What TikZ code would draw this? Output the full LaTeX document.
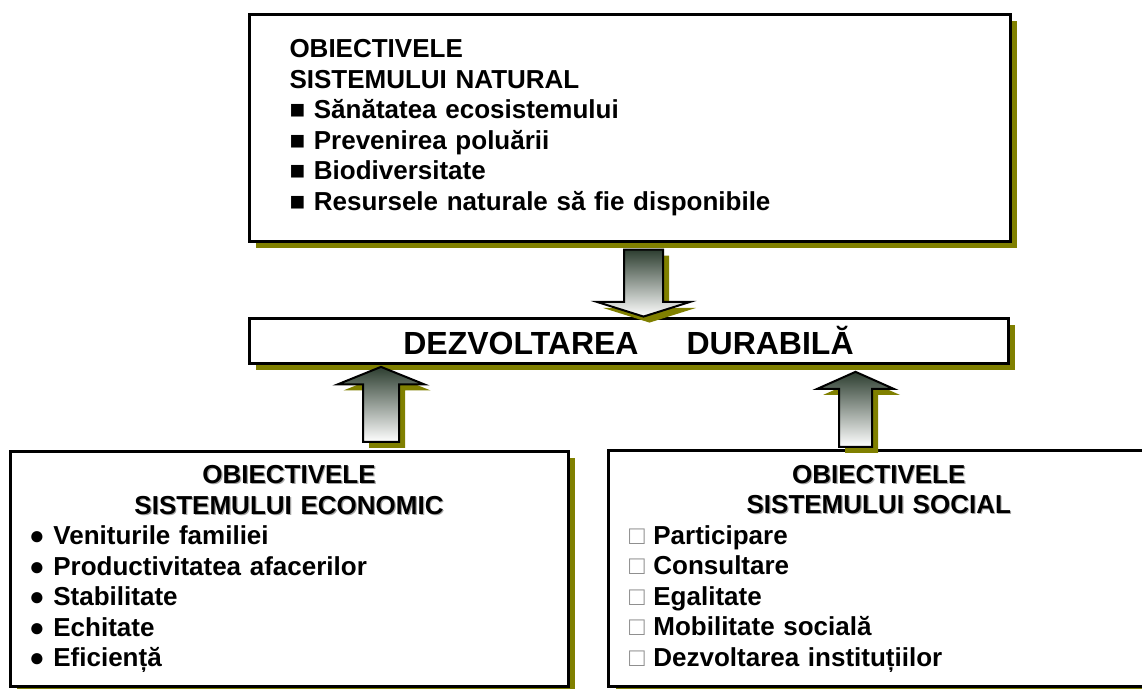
\documentclass[tikz,border=0pt]{standalone}
\usepackage{fontspec}
\setmainfont{Liberation Sans}
\usetikzlibrary{shapes.arrows,shadows}

\definecolor{umbra}{RGB}{128,128,0}
\definecolor{arrowdark}{RGB}{45,62,48}
\newcommand{\umbratext}[1]{\makebox[0pt][l]{\hspace{1.2pt}\raisebox{-1.2pt}{\textcolor{black!35}{#1}}}#1}

\begin{document}
\begin{tikzpicture}[x=1pt,y=-1pt,
    box/.style={draw=black, line width=3pt, fill=white, inner sep=0pt,
        drop shadow={shadow xshift=7pt, shadow yshift=-7pt, fill=umbra, opacity=1}},
    blockarrow/.style={single arrow, draw=black, line width=2pt, inner ysep=0pt,
        top color=arrowdark, bottom color=white, single arrow head indent=0pt,
        drop shadow={shadow xshift=6pt, shadow yshift=-6pt, fill=umbra, opacity=1}},
    itemfont/.style={font=\fontsize{26}{30.5}\selectfont\bfseries}]

                \useasboundingbox (0,0) rectangle (1142,688);

                \node[box, itemfont, minimum width=761, minimum height=227, text width=680, align=left] (natural) at (629.5,127.5)
                    {OBIECTIVELE\\ SISTEMULUI NATURAL\\ ■ Sănătatea ecosistemului\\ ■ Prevenirea poluării\\ ■ Biodiversitate\\ ■ Resursele naturale să fie disponibile};

                \node[box, font=\fontsize{32}{36}\selectfont\bfseries, minimum width=759, minimum height=45] (durable) at (628.5,340.5)
                    {DEZVOLTAREA\hspace{48pt}DURABILĂ};

                \node[box, itemfont, minimum width=558, minimum height=235.5, text width=520, align=left] (economic) at (289,569)
                    {{\centering\umbratext{OBIECTIVELE}\\ \umbratext{SISTEMULUI ECONOMIC}\par}
                     ● Veniturile familiei\\ ● Productivitatea afacerilor\\ ● Stabilitate\\ ● Echitate\\ ● Eficiență};

                \node[box, itemfont, minimum width=540.5, minimum height=236, text width=499.5, align=left] (social) at (878.75,568.5)
                    {{\centering\umbratext{OBIECTIVELE}\\ \umbratext{SISTEMULUI SOCIAL}\par}
                     {\mdseries\color{black!45}□} Participare\\ {\mdseries\color{black!45}□} Consultare\\ {\mdseries\color{black!45}□} Egalitate\\ {\mdseries\color{black!45}□} Mobilitate socială\\ {\mdseries\color{black!45}□} Dezvoltarea instituțiilor};

                % block arrows between the boxes
                \node[blockarrow, shape border rotate=270, inner xsep=18.5, minimum height=67, single arrow head extend=27, single arrow tip angle=145] (down) at (643.5,280) {};
                \node[blockarrow, shape border rotate=90, inner xsep=17, minimum height=75, single arrow head extend=25.5, single arrow tip angle=136] (upleft) at (381,408) {};
                \node[blockarrow, shape border rotate=90, inner xsep=15.5, minimum height=75, single arrow head extend=22, single arrow tip angle=132] (upright) at (855.5,413) {};

            \end{tikzpicture}
\end{document}
